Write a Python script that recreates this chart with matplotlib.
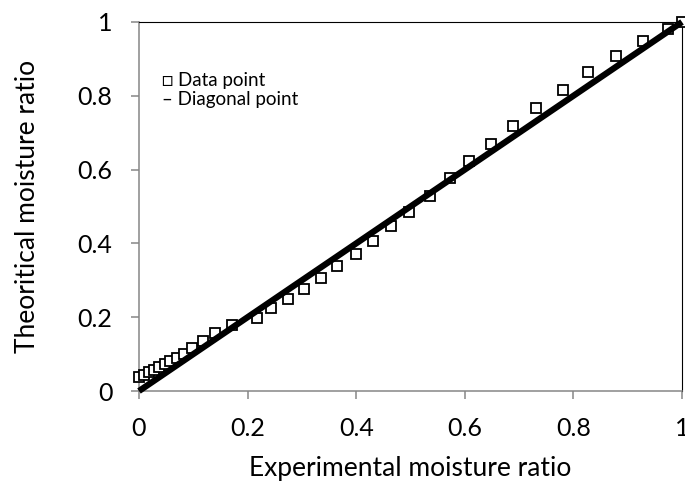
import numpy as np
import matplotlib.pyplot as plt

plt.rcParams['font.family'] = ['Lato', 'DejaVu Sans']

#------------------------------------------------------------------------------
# Experimental vs theoretical moisture ratio

mr_exp = [0.0, 0.009, 0.018, 0.027, 0.037, 0.047, 0.058, 0.070, 0.083, 0.097,
          0.117, 0.140, 0.171, 0.217, 0.243, 0.274, 0.303, 0.335, 0.365, 0.399,
          0.431, 0.465, 0.498, 0.536, 0.573, 0.608, 0.648, 0.689, 0.731, 0.780,
          0.827, 0.878, 0.929, 0.975, 1.0]
mr_theo = [0.037, 0.044, 0.051, 0.058, 0.065, 0.072, 0.080, 0.089, 0.099, 0.116,
           0.136, 0.158, 0.180, 0.198, 0.224, 0.248, 0.277, 0.305, 0.338, 0.372,
           0.406, 0.447, 0.486, 0.529, 0.576, 0.622, 0.669, 0.719, 0.767, 0.817,
           0.864, 0.909, 0.948, 0.982, 1.0]

diag = [0, 1]

ticks = [0, 0.2, 0.4, 0.6, 0.8, 1]
tick_labels = ['0', '0.2', '0.4', '0.6', '0.8', '1']

grey = '#868686'

fig = plt.figure(figsize=(6.85, 4.86), dpi=100)
ax = fig.add_axes([139 / 685, 95 / 486, 543 / 685, 369 / 486])

ax.plot(mr_exp, mr_theo, 's', ms=7.5, mfc='white', mec='black', mew=1.3,
        clip_on=False, zorder=3)
ax.plot(diag, diag, '-', color='black', lw=4.5, solid_capstyle='butt',
        clip_on=False, zorder=4)

ax.set_xlim(0, 1)
ax.set_ylim(0, 1)
ax.set_xticks(ticks)
ax.set_xticklabels(tick_labels)
ax.set_yticks(ticks)
ax.set_yticklabels(tick_labels)

# Excel style frame: grey axes, thin black top/right
for side in ['left', 'bottom']:
    ax.spines[side].set_color(grey)
    ax.spines[side].set_linewidth(1.1)
for side in ['top', 'right']:
    ax.spines[side].set_color('black')
    ax.spines[side].set_linewidth(0.8)

ax.tick_params(axis='both', direction='out', length=6, width=1.1, color=grey,
               labelsize=18)
ax.tick_params(axis='x', pad=13)
ax.tick_params(axis='y', pad=13)

ax.set_xlabel('Experimental moisture ratio', fontsize=19, labelpad=11)
ax.set_ylabel('Theoritical moisture ratio', fontsize=19, labelpad=27)

# legend written as plain text like the original
ax.text(162 / 685, 1 - 86 / 486, '\u25a1 Data point', transform=fig.transFigure,
        fontsize=13.5, va='baseline', ha='left')
ax.text(162 / 685, 1 - 104.5 / 486, '\u2013 Diagonal point', transform=fig.transFigure,
        fontsize=13.5, va='baseline', ha='left')

fig.savefig('out.png', dpi=100)
